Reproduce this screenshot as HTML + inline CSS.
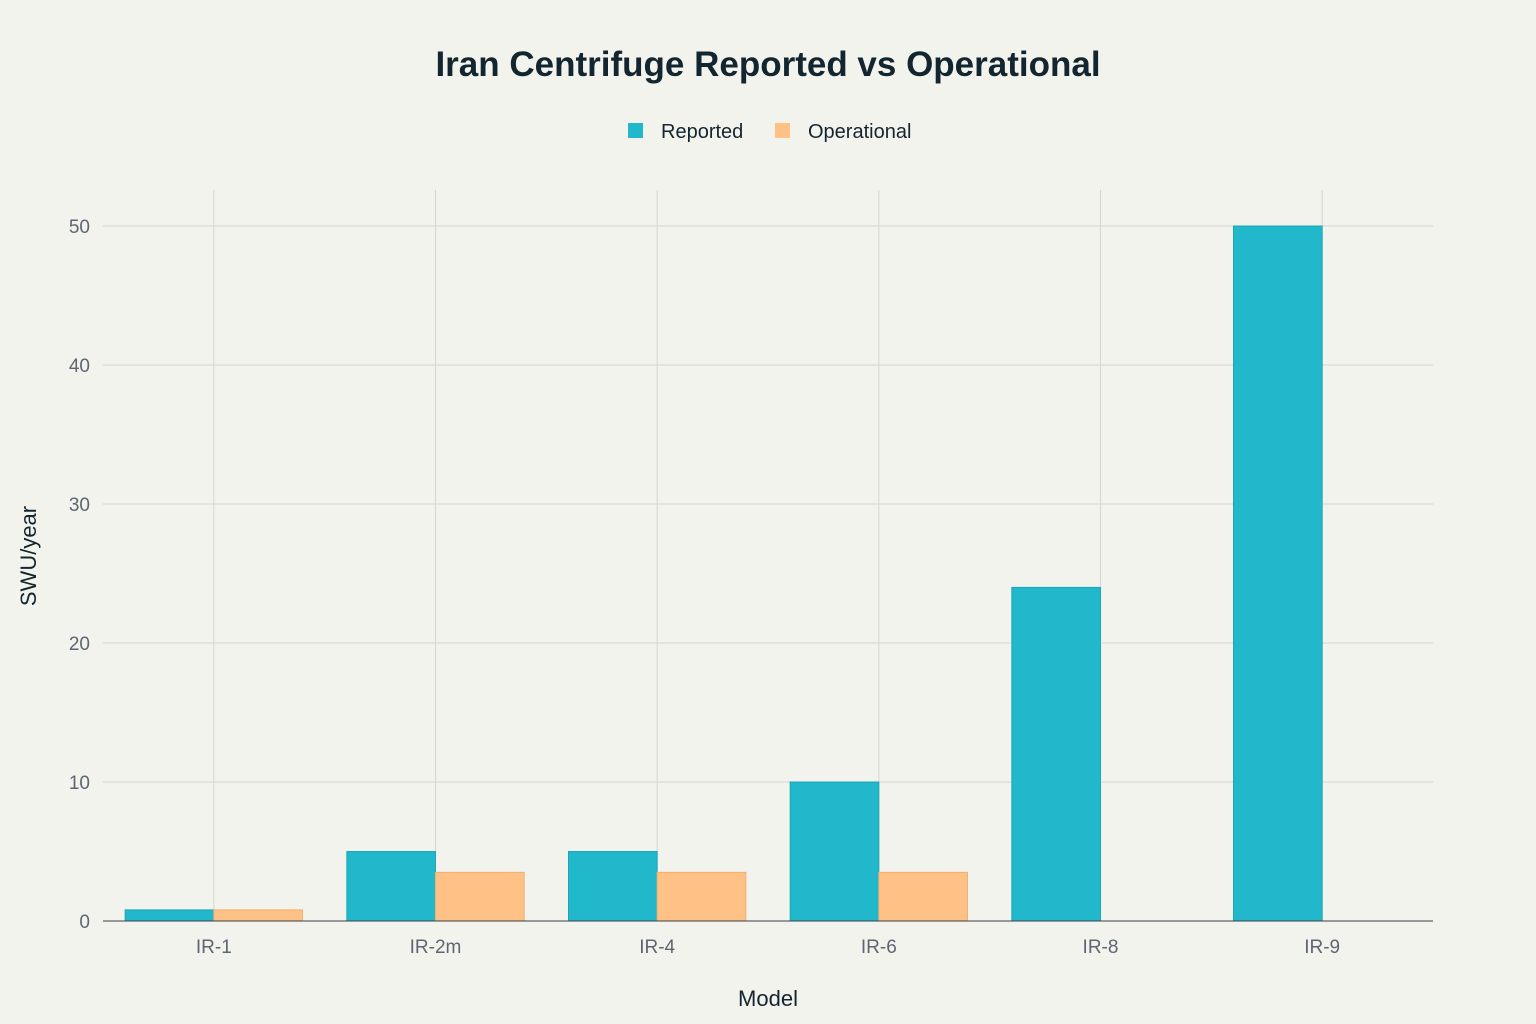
<!DOCTYPE html>
<html><head><meta charset="utf-8"><style>
html,body{margin:0;padding:0;background:#f3f3ee;}
svg{display:block;font-family:"Liberation Sans",sans-serif;}
</style></head><body>
<svg id="chart" width="1536" height="1024">
<rect width="1536" height="1024" fill="#f3f3ee"/>
<text x="768" y="76" text-anchor="middle" font-size="35" font-weight="bold" fill="#13252e">Iran Centrifuge Reported vs Operational</text>
<g>
<g><rect x="628" y="123" width="15" height="15" fill="#21b8cb"/><text x="661" y="138" font-size="20" fill="#13252e">Reported</text></g>
<g><rect x="775" y="123" width="15" height="15" fill="#ffc185"/><text x="808" y="138" font-size="20" fill="#13252e">Operational</text></g>
</g>
<g id="grid"></g>
<g id="bars"></g>
<g id="axes"></g>
<text x="768" y="1006" text-anchor="middle" font-size="22" fill="#13252e">Model</text>
<text transform="translate(36,556) rotate(-90)" text-anchor="middle" font-size="22" fill="#13252e">SWU/year</text>
</svg>
<script>
const categories=["IR-1","IR-2m","IR-4","IR-6","IR-8","IR-9"];
const reported=[0.8,5,5,10,24,50];
const operational=[0.8,3.5,3.5,3.5,0,0];
const yTicks=[0,10,20,30,40,50];
const NS="http://www.w3.org/2000/svg";
const x0=103,x1=1433,yZero=921,yTop=190,pxPerUnit=(921-226)/50;
const step=(x1-x0)/categories.length;
function xc(i){return x0+step*(i+0.5);}
function y(v){return yZero-v*pxPerUnit;}
function mk(tag,attrs,parent){const e=document.createElementNS(NS,tag);for(const k in attrs)e.setAttribute(k,attrs[k]);parent.appendChild(e);return e;}
const grid=document.getElementById('grid'),bars=document.getElementById('bars'),axes=document.getElementById('axes');
yTicks.forEach(t=>{
  if(t>0){const l=mk('line',{x1:x0,x2:x1,y1:y(t),y2:y(t),stroke:'#d6d6d0','stroke-width':1},grid);
  
  }
  const tx=mk('text',{x:90,y:y(t)+7,'text-anchor':'end','font-size':19,fill:'#5d6670'},axes);
  tx.textContent=t;
  
  
});
categories.forEach((c,i)=>{
  const l=mk('line',{x1:xc(i),x2:xc(i),y1:yTop,y2:yZero,stroke:'#d6d6d0','stroke-width':1},grid);
  
  
  const bw=step*0.4;
  const r=mk('rect',{x:xc(i)-bw,y:y(reported[i]),width:bw,height:reported[i]*pxPerUnit,fill:'#21b8cb',stroke:'#1ea5b6','stroke-width':1},bars);
  
  
  const o=mk('rect',{x:xc(i),y:y(operational[i]),width:bw,height:operational[i]*pxPerUnit,fill:'#ffc185',stroke:'#f0b070','stroke-width':1},bars);
  
  
  const tx=mk('text',{x:xc(i),y:953,'text-anchor':'middle','font-size':19,fill:'#5d6670'},axes);
  tx.textContent=c;
  
  
});
const ax=mk('line',{x1:x0,x2:x1,y1:yZero,y2:yZero,stroke:'#3a3f44','stroke-width':1},axes);


</script>
</body></html>
